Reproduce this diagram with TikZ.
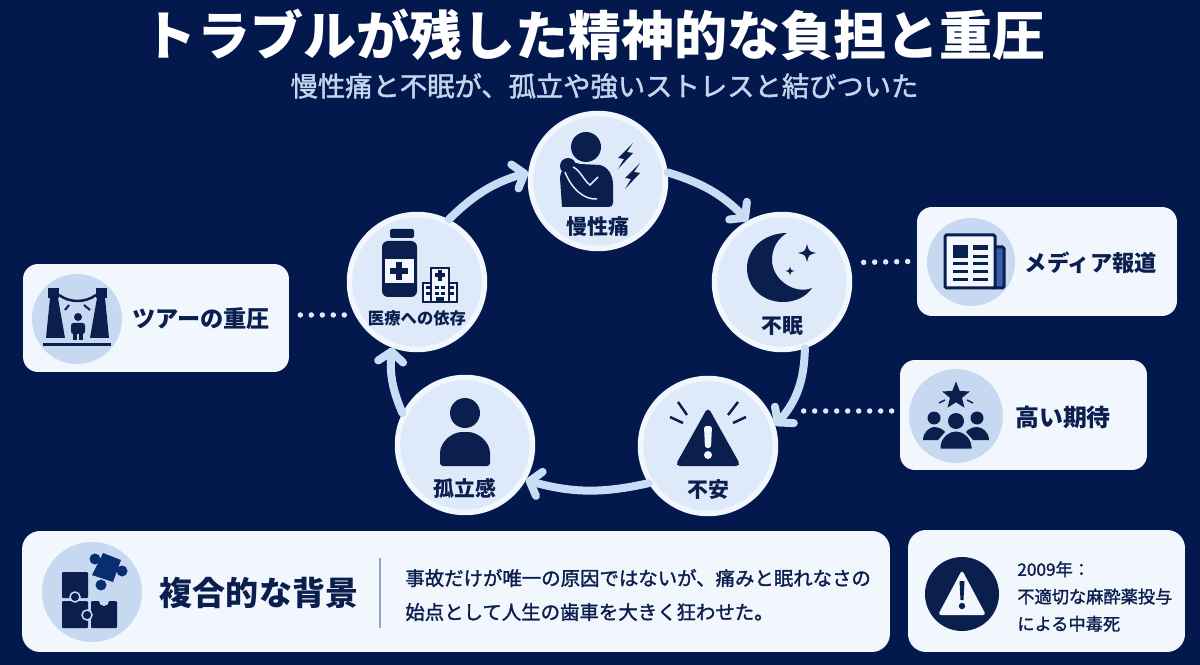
\documentclass[tikz,border=0pt]{standalone}
\usepackage{fontspec}
\setmainfont{Noto Sans CJK JP}
\newfontfamily\mediumfont[FakeBold=1.5]{Noto Sans CJK JP}
\usetikzlibrary{arrows.meta}
\usetikzlibrary{shapes}

\definecolor{bgnavy}{HTML}{03194E}
\definecolor{inkblue}{HTML}{0B1F4F}
\definecolor{cardwhite}{HTML}{F2F6FD}
\definecolor{circlepale}{HTML}{DEE9F9}
\definecolor{iconpale}{HTML}{C6D9F1}
\definecolor{arrowpale}{HTML}{C9DCF5}
\definecolor{subpale}{HTML}{C5D5EE}
\definecolor{puzzleblue}{HTML}{0A2C70}
\definecolor{pageblue}{HTML}{3B5EA8}
\definecolor{rulegrey}{HTML}{8FA5CC}

\tikzset{
    circlenode/.style={circle, draw=cardwhite, fill=circlepale, line width=0.11cm, minimum size=2.7cm, inner sep=0pt},
    sidecard/.style={rounded corners=0.3cm, fill=cardwhite, inner sep=0pt},
    iconback/.style={circle, fill=iconpale, inner sep=0pt},
    flowarrow/.style={draw=arrowpale, line width=0.16cm, line cap=round, -{Straight Barb[round, length=0.2cm, width=0.5cm]}},
    dotlink/.style={draw=circlepale, line width=0.11cm, line cap=round, dash pattern=on 0pt off 0.22cm},
    circletext/.style={text=inkblue, font=\fontsize{11.9}{12}\selectfont\bfseries, inner sep=0pt},
    cardtext/.style={text=inkblue, font=\fontsize{13.2}{14}\selectfont\bfseries, inner sep=0pt},
    bodytext/.style={text=inkblue, font=\fontsize{11.05}{19.3}\selectfont\mediumfont, inner sep=0pt, align=left, anchor=west},
    notetext/.style={text=inkblue, font=\fontsize{9.8}{15.5}\selectfont\mediumfont, inner sep=0pt, align=left, anchor=west}
}

\begin{document}
\begin{tikzpicture}[x=0.02cm, y=-0.02cm]
    \useasboundingbox (0,0) rectangle (1200,665);
    \fill[bgnavy] (0,0) rectangle (1200,665);

    %%%%%%%%
    % title
    %%%%%%%%
    \node[text=white, font=\fontsize{30.2}{31}\selectfont\bfseries, inner sep=0pt] (title) at (595,35) {トラブルが残した精神的な負担と重圧};
    \node[text=subpale, font=\fontsize{15.55}{16}\selectfont\mediumfont, inner sep=0pt] (subtitle) at (604.5,86) {慢性痛と不眠が、孤立や強いストレスと結びついた};

    %%%%%%%%
    % cycle
    %%%%%%%%

    % draw circles
    \node[circlenode] (pain) at (598,181) {};
    \node[circlenode] (sleep) at (782,282) {};
    \node[circlenode] (anxiety) at (708,446) {};
    \node[circlenode] (alone) at (465,445) {};
    \node[circlenode] (medical) at (417,282) {};

    % draw arrows
    \draw[flowarrow] (pain.7) to[bend left=14] (sleep.119);
    \draw[flowarrow] (sleep.-71) to[bend left=20] (anxiety.17);
    \draw[flowarrow] (anxiety.212) to[bend left=14] (alone.-30);
    \draw[flowarrow] (alone.153) to[bend left=14] (medical.249);
    \draw[flowarrow] (medical.63) to[bend left=14] (pain.173);

    % draw circle labels
    \node[circletext] (painlabel) at (598,227) {慢性痛};
    \node[circletext] (sleeplabel) at (782,326) {不眠};
    \node[circletext] (anxietylabel) at (708,490) {不安};
    \node[circletext] (alonelabel) at (465,488) {孤立感};
    \node[circletext, font=\fontsize{9.3}{10}\selectfont\bfseries] (medicallabel) at (417,318) {医療への依存};

    % draw pain icon
    \fill[inkblue] (586,147) circle (15);
    \fill[inkblue] (562,207) -- (560,178) .. controls (560,168) and (572,160) .. (580,164) -- (600,165) .. controls (608,167) and (613,175) .. (613,185) -- (613,203) .. controls (613,206) and (611,207) .. (608,207) -- cycle;
    \fill[inkblue] (568,166) circle (8);
    \draw[circlepale, line width=0.03cm] (565,172) .. controls (572,190) and (585,200) .. (597,199);
    \draw[circlepale, line width=0.03cm] (573,167) .. controls (580,170) and (585,182) .. (590,185) -- (598,177);
    \foreach \dx/\dy in {0/0, 7/20}
        \fill[inkblue, shift={(\dx,\dy)}] (633,143) -- (618,158) -- (624,159) -- (618,169) -- (633,153) -- (627,152) -- cycle;

    % draw moon icon
    \fill[inkblue] (787,233) .. controls (765,233) and (747,248) .. (747,268) .. controls (747,288) and (763,302) .. (783,302) .. controls (795,302) and (806,297) .. (812,288) .. controls (795,295) and (772,280) .. (772,260) .. controls (772,248) and (778,238) .. (787,233) -- cycle;
    \foreach \sx/\sy/\sr in {807/253/9, 790/271/4.5}
        \fill[inkblue] (\sx-\sr,\sy) .. controls (\sx-0.2*\sr,\sy-0.2*\sr) .. (\sx,\sy-\sr) .. controls (\sx+0.2*\sr,\sy-0.2*\sr) .. (\sx+\sr,\sy) .. controls (\sx+0.2*\sr,\sy+0.2*\sr) .. (\sx,\sy+\sr) .. controls (\sx-0.2*\sr,\sy+0.2*\sr) .. cycle;

    % draw warning icon
    \fill[inkblue, rounded corners=0.1cm] (708,407) -- (741,466) -- (675,466) -- cycle;
    \fill[cardwhite, rounded corners=0.05cm] (704,426) -- (712,426) -- (711,448) -- (705,448) -- cycle;
    \fill[cardwhite] (708,455) circle (4);
    \draw[inkblue, line width=0.05cm] (678,402) -- (687,415);
    \draw[inkblue, line width=0.05cm] (670,417) -- (683,423);
    \draw[inkblue, line width=0.05cm] (738,402) -- (728,415);
    \draw[inkblue, line width=0.05cm] (746,417) -- (733,423);

    % draw person icon
    \fill[inkblue] (465,413) circle (15);
    \fill[inkblue, rounded corners=0.06cm] (440,466) -- (440,456) .. controls (440,442) and (452,432) .. (465,432) .. controls (478,432) and (490,442) .. (490,456) -- (490,466) -- cycle;

    % draw bottle icon
    \fill[inkblue, rounded corners=0.04cm] (390,229) rectangle (414,238);
    \fill[inkblue, rounded corners=0.12cm] (382,241) rectangle (417,297);
    \fill[cardwhite] (385,259) rectangle (414,283);
    \fill[inkblue] (390,268) rectangle (408,274);
    \fill[inkblue] (396,262) rectangle (402,280);

    % draw hospital icon
    \filldraw[draw=inkblue, fill=cardwhite, line width=0.04cm] (423,283) rectangle (457,302);
    \filldraw[draw=inkblue, fill=cardwhite, line width=0.04cm] (431,268) rectangle (449,302);
    \fill[inkblue] (438,270) rectangle (442,281);
    \fill[inkblue] (435,273.5) rectangle (445,277.5);
    \foreach \wx in {426,435,441,450}
        \foreach \wy in {286,292}
            \fill[inkblue] (\wx,\wy) rectangle (\wx+4,\wy+3.5);
    \fill[inkblue] (436,297) rectangle (444,302);

    %%%%%%%%
    % side cards
    %%%%%%%%

    % draw cards
    \node[sidecard, minimum width=5.32cm, minimum height=2.16cm] (tour) at (156,318) {};
    \node[sidecard, minimum width=5.2cm, minimum height=2.18cm] (media) at (1047,261.5) {};
    \node[sidecard, minimum width=4.94cm, minimum height=2.2cm] (expect) at (1023.5,415) {};
    \coordinate (expectend) at (803,411);

    % draw dotted lines
    \draw[dotlink, shorten >=0.2cm] (tour.east) ++(11,-3) -- (medical.208);
    \draw[dotlink, shorten >=0.2cm] (media.west) ++(-9,0) -- (sleep.16);
    \draw[dotlink] (expect.west) ++(-8,-4) -- (expectend);

    % draw card labels
    \node[cardtext] (tourlabel) at (201,319) {ツアーの重圧};
    \node[cardtext, font=\fontsize{12.7}{13}\selectfont\bfseries] (medialabel) at (1091,263) {メディア報道};
    \node[cardtext, font=\fontsize{13.6}{14}\selectfont\bfseries] (expectlabel) at (1063,417) {高い期待};

    % draw tour icon
    \node[iconback, minimum size=1.8cm] (touricon) at (77,319) {};
    \fill[inkblue] (48,288) rectangle (59,298);
    \fill[inkblue] (50,298) -- (58,298) -- (65,338) -- (46,338) -- cycle;
    \fill[inkblue] (96,288) rectangle (107,298);
    \fill[inkblue] (97,298) -- (105,298) -- (109,338) -- (90,338) -- cycle;
    \fill[inkblue] (43,343) rectangle (111,346);
    \draw[inkblue, line width=0.05cm] (59,295) .. controls (70,303) and (85,303) .. (96,295);
    \draw[inkblue, line width=0.04cm] (65,310) -- (69,305);
    \draw[inkblue, line width=0.04cm] (84,305) -- (90,310);
    \fill[inkblue] (78,317) circle (4);
    \fill[inkblue, rounded corners=0.05cm] (71,323) rectangle (85,334);
    \fill[inkblue] (73,332) rectangle (77,340);
    \fill[inkblue] (79,332) rectangle (83,340);

    % draw newspaper icon
    \node[iconback, minimum size=1.76cm] (mediaicon) at (971,262) {};
    \filldraw[draw=inkblue, fill=pageblue, line width=0.06cm, rounded corners=0.03cm] (992,247) rectangle (1004,288);
    \filldraw[draw=inkblue, fill=cardwhite, line width=0.06cm, rounded corners=0.03cm] (945,235) rectangle (995,288);
    \fill[inkblue] (953,245) rectangle (968,258);
    \fill[inkblue] (973,245) rectangle (988,250);
    \fill[inkblue] (973,255) rectangle (988,258);
    \foreach \ny in {262,270,278} {
        \fill[inkblue] (953,\ny) rectangle (968,\ny+3);
        \fill[inkblue] (973,\ny) rectangle (988,\ny+3);
    }

    % draw crowd icon
    \node[iconback, minimum size=1.88cm] (expecticon) at (956,416) {};
    \node[star, star points=5, star point ratio=2.3, fill=inkblue, inner sep=0pt, minimum size=0.58cm] (expectstar) at (956,396) {};
    \draw[inkblue, line width=0.03cm] (939,403) -- (945,400);
    \draw[inkblue, line width=0.03cm] (967,400) -- (973,403);
    \foreach \hx/\hy/\hr in {934/418/6.5, 977/418/6.5, 956/421/8}
        \fill[inkblue] (\hx,\hy) circle (\hr);
    \fill[inkblue] (923,440) .. controls (923,432) and (930,427) .. (934,427) .. controls (938,427) and (943,429) .. (945,432) -- (938,440) -- cycle;
    \fill[inkblue] (989,440) .. controls (989,432) and (982,427) .. (977,427) .. controls (973,427) and (968,429) .. (966,432) -- (973,440) -- cycle;
    \filldraw[draw=iconpale, fill=inkblue, line width=0.02cm] (940,449) -- (940,447) .. controls (940,438) and (948,431) .. (956,431) .. controls (964,431) and (972,438) .. (972,447) -- (972,449) -- cycle;

    %%%%%%%%
    % bottom cards
    %%%%%%%%

    % draw background card
    \node[sidecard, rounded corners=0.36cm, minimum width=17.36cm, minimum height=2.42cm] (background) at (456,591.5) {};
    \node[iconback, minimum size=2cm] (puzzleicon) at (92,592) {};
    \node[cardtext, font=\fontsize{18.8}{19}\selectfont\bfseries] (backgroundlabel) at (259,593) {複合的な背景};
    \node[bodytext] (backgroundtext) at (405,595) {事故だけが唯一の原因ではないが、痛みと眠れなさの\\始点として人生の歯車を大きく狂わせた。};
    \coordinate (ruletop) at (380,558);
    \coordinate (rulebottom) at (380,628);
    \draw[rulegrey, line width=0.03cm] (ruletop) -- (rulebottom);

    % draw puzzle icon
    \fill[inkblue, rounded corners=0.02cm] (62,572) rectangle (88,598);
    \fill[inkblue, rounded corners=0.02cm] (62,601) rectangle (88,628);
    \fill[inkblue, rounded corners=0.02cm] (91,601) rectangle (117,628);
    \draw[iconpale, line width=0.03cm, fill=inkblue] (75,597) circle (5);
    \fill[iconpale] (104,601) circle (5);
    \draw[iconpale, line width=0.03cm, fill=inkblue] (87,615) circle (5);
    \fill[puzzleblue] (103,553) -- (121,560) -- (113,582) -- (92,575) -- cycle;
    \foreach \kx/\ky in {95/559, 122/571, 101/585}
        \fill[puzzleblue] (\kx,\ky) circle (5.5);

    % draw note card
    \node[sidecard, rounded corners=0.36cm, minimum width=5.54cm, minimum height=2.44cm] (note) at (1046.5,591) {};
    \node[circle, fill=inkblue, inner sep=0pt, minimum size=1.48cm] (noteicon) at (962,594) {};
    \fill[cardwhite, rounded corners=0.06cm] (962,570) -- (986,615) -- (938,615) -- cycle;
    \fill[inkblue] (959.5,581) -- (964.5,581) -- (963.5,600) -- (960.5,600) -- cycle;
    \fill[inkblue] (962,606) circle (3.2);
    \node[notetext] (notetext) at (1017,596.5) {2009年：\\不適切な麻酔薬投与\\による中毒死};
\end{tikzpicture}
\end{document}
